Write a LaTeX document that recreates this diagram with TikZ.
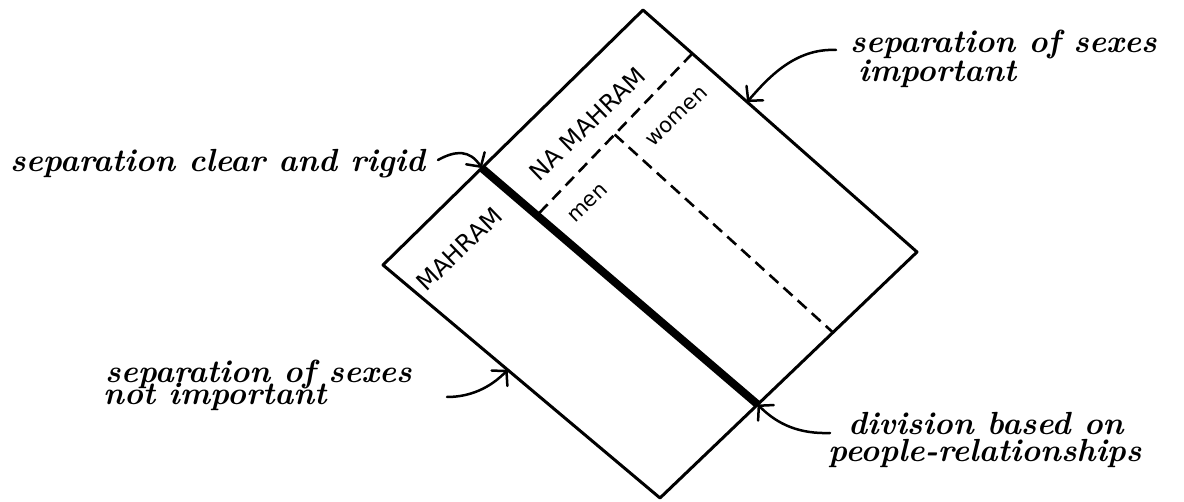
\documentclass[tikz,border=0pt]{standalone}
\usepackage{fontspec}
\newfontfamily\capsfont{DejaVu Sans}
\usetikzlibrary{calc,arrows.meta}
\begin{document}
\begin{tikzpicture}[x=1pt,y=-1pt,
  outline/.style={line width=3pt,line join=round,line cap=round},
  divider/.style={line width=8pt,line cap=butt},
  subdivider/.style={line width=2.6pt,dash pattern=on 12pt off 7pt},
  inlabel/.style={font=\capsfont\fontsize{24}{26}\selectfont,rotate=44,inner sep=0pt},
  sublabel/.style={font=\capsfont\fontsize{21}{24}\selectfont,rotate=44,inner sep=0pt},
  note/.style={font=\fontsize{32}{30}\selectfont\bfseries\itshape,inner sep=0pt,anchor=base west},
  pointer/.style={line width=2.5pt,line cap=round,line join=round,
    -{Straight Barb[length=10pt,width=22pt,line cap=round]}}]

\fill[white] (0,0) rectangle (1184,502);
\useasboundingbox (0,0) rectangle (1184,502);

% corners of the tilted square
\coordinate (T) at (643,10);
\coordinate (R) at (917,252);
\coordinate (B) at (660,498);
\coordinate (L) at (383,265);

% main division and the two dashed subdivisions
\coordinate (K1) at ($(T)!0.62!(L)$);
\coordinate (K2) at ($(R)!0.62!(B)$);
\coordinate (D1a) at ($(T)!0.18!(R)$);
\coordinate (D1b) at ($(K1)!0.2!(K2)$);
\coordinate (D2a) at ($(D1a)!0.5!(D1b)$);
\coordinate (D2b) at ($(R)!0.327!(B)$);

\draw[outline] (T) -- (R) -- (B) -- (L) -- cycle;
\draw[divider] (K1) -- (K2);
\draw[subdivider] (D1a) -- (D1b);
\draw[subdivider] (D2a) -- (D2b);

% labels inside the square
\node[inlabel] (mahram) at (459,249) {MAHRAM};
\node[inlabel] (namahram) at (587,124) {NA MAHRAM};
\node[sublabel] (men) at (588,203) {men};
\node[sublabel] (women) at (677,117) {women};

% notes around the square
\node[note] (clear) at (10,172) {separation clear and rigid};
\node[note] (imp1) at (850,53) {separation of sexes};
\node[note] (imp2) at (858,82) {important};
\node[note] (nimp1) at (105,383) {separation of sexes};
\node[note] (nimp2) at (103,405) {not important};
\node[note] (div1) at (848,435) {division based on};
\node[note] (div2) at (828,462) {people-relationships};

% arrow tips on the outline
\coordinate (A2) at ($(T)!0.38!(R)$);
\coordinate (A3) at ($(L)!0.45!(B)$);
\coordinate (s1) at (438,160);
\coordinate (s2) at (836,50);
\coordinate (s3) at (447,397);
\coordinate (s4) at (830,433);

\draw[pointer] (s1) .. controls (456,150) and (470,150) .. (K1);
\draw[pointer] (s2) .. controls (795,48) and (768,78) .. (A2);
\draw[pointer] (s3) .. controls (470,397) and (490,388) .. (A3);
\draw[pointer] (s4) .. controls (800,434) and (778,425) .. (K2);
\end{tikzpicture}
\end{document}
